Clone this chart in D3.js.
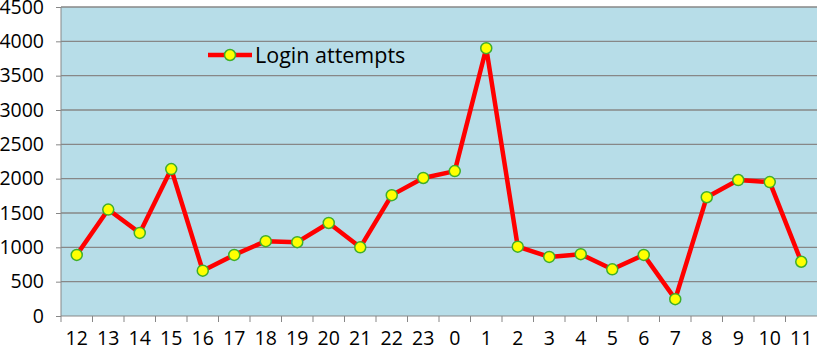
<!DOCTYPE html>
<html>
<head>
<meta charset="utf-8">
<script src="https://cdn.jsdelivr.net/npm/d3@7"></script>
<style>
  body { margin: 0; background: #fff; }
  text { font-family: "Open Sans", "Liberation Sans", sans-serif; fill: #000; }
</style>
</head>
<body>
<script>
// hours of the day, starting at noon
var hours = ['12','13','14','15','16','17','18','19','20','21','22','23','0','1','2','3','4','5','6','7','8','9','10','11'];
var attempts = [890, 1550, 1210, 2140, 660, 890, 1090, 1075, 1355, 1000, 1760, 2010, 2110, 3900, 1010, 860, 900, 680, 890, 245, 1730, 1980, 1950, 790];
var yTicks = [0, 500, 1000, 1500, 2000, 2500, 3000, 3500, 4000, 4500];
var seriesName = 'Login attempts';

var W = 817, H = 350;
var plotL = 61, plotR = 817, plotT = 7, plotB = 316;

var svg = d3.select('body').append('svg')
  .attr('width', W)
  .attr('height', H);

var x = d3.scaleBand().domain(hours).range([plotL, plotR]);
var y = d3.scaleLinear().domain([0, 4500]).range([plotB, plotT]);

svg.append('rect')
  .attr('x', plotL).attr('y', plotT)
  .attr('width', plotR - plotL).attr('height', plotB - plotT)
  .attr('fill', '#b7dde8');

// gridlines
svg.selectAll('.grid').data(yTicks.slice(1))
  .enter().append('line')
  .attr('x1', plotL).attr('x2', plotR)
  .attr('y1', function(d) { return y(d); })
  .attr('y2', function(d) { return y(d); })
  .attr('stroke', '#878787')
  .attr('stroke-width', 1.3);

// y axis
var yAxis = svg.append('g')
  .attr('transform', 'translate(' + plotL + ',0)')
  .call(d3.axisLeft(y).tickValues(yTicks).tickFormat(d3.format('d')).tickSize(5).tickPadding(12));
yAxis.selectAll('text').style('font-size', '19.5px').attr('fill', '#000');
yAxis.selectAll('line, path').attr('stroke', '#878787');
yAxis.select('.domain').attr('d', 'M0,' + plotT + 'V' + plotB);

// x axis, ticks between categories
var xAxis = svg.append('g')
  .attr('transform', 'translate(0,' + plotB + ')')
  .call(d3.axisBottom(x).tickSize(0).tickPadding(15));
xAxis.selectAll('text').style('font-size', '19.5px').attr('fill', '#000');
xAxis.select('.domain').attr('stroke', '#878787').attr('d', 'M' + plotL + ',0H' + plotR);
xAxis.selectAll('.sep').data(hours)
  .enter().append('line')
  .attr('x1', function(d) { return x(d); })
  .attr('x2', function(d) { return x(d); })
  .attr('y1', 0).attr('y2', 6)
  .attr('stroke', '#878787');

var cx = function(d, i) { return x(hours[i]) + x.bandwidth() / 2; };

var line = d3.line()
  .x(function(d, i) { return cx(d, i); })
  .y(function(d) { return y(d); });

svg.append('path')
  .datum(attempts)
  .attr('d', line)
  .attr('fill', 'none')
  .attr('stroke', '#ff0000')
  .attr('stroke-width', 4.5)
  .attr('stroke-linejoin', 'round');

svg.selectAll('.pt').data(attempts)
  .enter().append('circle')
  .attr('cx', cx)
  .attr('cy', function(d) { return y(d); })
  .attr('r', 5.5)
  .attr('fill', '#ffff00')
  .attr('stroke', '#3fae2a')
  .attr('stroke-width', 1.5);

// legend
var lg = svg.append('g').attr('transform', 'translate(208,55)');
lg.append('line').attr('x1', 0).attr('x2', 44).attr('y1', 0).attr('y2', 0)
  .attr('stroke', '#ff0000').attr('stroke-width', 4.5);
lg.append('circle').attr('cx', 22).attr('cy', 0).attr('r', 5.5)
  .attr('fill', '#ffff00').attr('stroke', '#3fae2a').attr('stroke-width', 1.5);
lg.append('text').attr('x', 47).attr('y', 0).attr('dy', '0.35em')
  .style('font-size', '21.5px').text(seriesName);
</script>
</body>
</html>
